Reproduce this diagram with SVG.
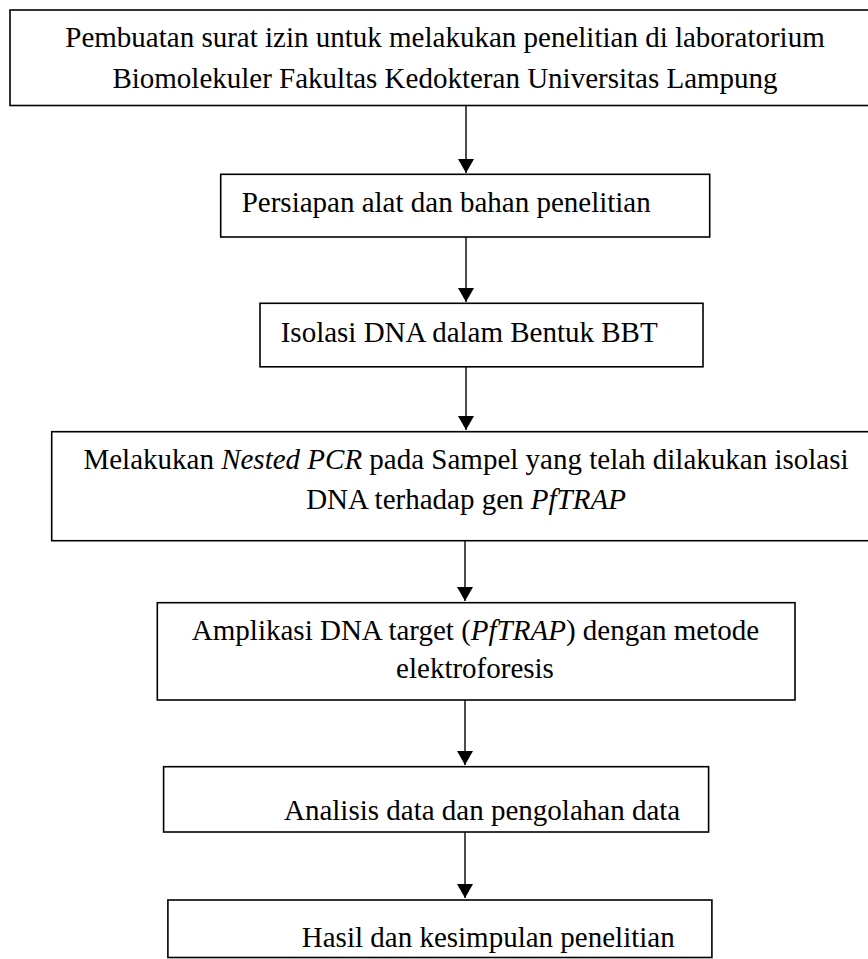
<svg xmlns="http://www.w3.org/2000/svg" width="868" height="959" viewBox="0 0 868 959">
<style>
.box{fill:#fff;stroke:#000;stroke-width:1.6}
.t{font-family:"Liberation Serif","Times New Roman",serif;font-size:29px;fill:#000}
.c{text-anchor:middle}
.i{font-style:italic}
.conn{stroke:#000;stroke-width:1.4;fill:none}
</style>
<defs>
<marker id="arr" markerUnits="userSpaceOnUse" viewBox="0 0 14 16" refX="14" refY="8" markerWidth="14" markerHeight="16" orient="auto">
<path d="M0,0 L14,8 L0,16 z" fill="#000"/>
</marker>
</defs>
<rect width="868" height="959" fill="#fff"/>
<g id="connectors">
<line class="conn" x1="466" y1="106" x2="466" y2="173" marker-end="url(#arr)"/>
<line class="conn" x1="466" y1="237" x2="466" y2="302" marker-end="url(#arr)"/>
<line class="conn" x1="466" y1="367" x2="466" y2="430" marker-end="url(#arr)"/>
<line class="conn" x1="465" y1="541" x2="465" y2="601" marker-end="url(#arr)"/>
<line class="conn" x1="465" y1="700" x2="465" y2="765" marker-end="url(#arr)"/>
<line class="conn" x1="465" y1="832" x2="465" y2="898" marker-end="url(#arr)"/>
</g>
<g id="n1">
<rect class="box" x="10" y="10" width="870" height="95.5"/>
<text class="t c" x="445" y="46.5">Pembuatan surat izin untuk melakukan penelitian di laboratorium</text>
<text class="t c" x="445" y="87.5">Biomolekuler Fakultas Kedokteran Universitas Lampung</text>
</g>
<g id="n2">
<rect class="box" x="220.7" y="174.3" width="489" height="62.7"/>
<text class="t" x="241.7" y="211.7">Persiapan alat dan bahan penelitian</text>
</g>
<g id="n3">
<rect class="box" x="260" y="303.3" width="443" height="63.5"/>
<text class="t" x="280.7" y="342">Isolasi DNA dalam Bentuk BBT</text>
</g>
<g id="n4">
<rect class="box" x="51.7" y="431.7" width="830" height="109"/>
<text class="t c" x="466" y="469.3">Melakukan <tspan class="i">Nested PCR</tspan> pada Sampel yang telah dilakukan isolasi</text>
<text class="t c" x="466" y="509">DNA terhadap gen <tspan class="i">PfTRAP</tspan></text>
</g>
<g id="n5">
<rect class="box" x="157.3" y="602.7" width="637.7" height="97.3"/>
<text class="t c" x="475.5" y="640">Amplikasi DNA target (<tspan class="i">PfTRAP</tspan>) dengan metode</text>
<text class="t c" x="475" y="677.7">elektroforesis</text>
</g>
<g id="n6">
<rect class="box" x="163.6" y="766.7" width="545" height="65.3"/>
<text class="t" x="284" y="820">Analisis data dan pengolahan data</text>
</g>
<g id="n7">
<rect class="box" x="167.9" y="900" width="544" height="57.5"/>
<text class="t" x="301.8" y="946.7">Hasil dan kesimpulan penelitian</text>
</g>
</svg>
